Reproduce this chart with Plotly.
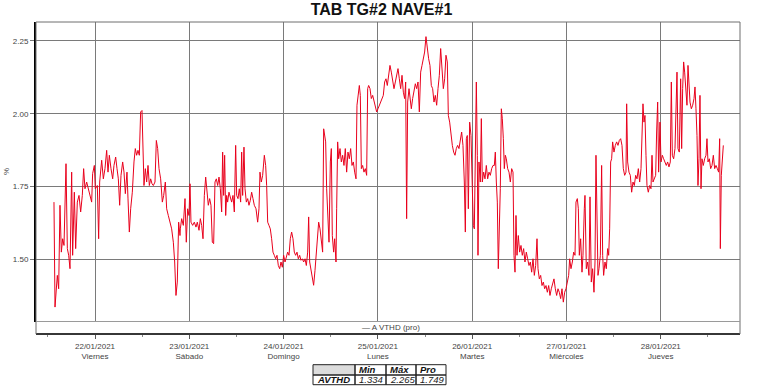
import plotly.graph_objects as go
import pandas as pd

# ---------------- data ----------------
chart_title = "TAB TG#2 NAVE#1"
series_name = "A VTHD (pro)"
start_time = "2021-01-21 00:00"

# hours since 21/01/2021 00:00
hours = [
    13.56, 13.82, 14.41, 14.75, 15.09, 15.43, 15.77, 16.11, 16.62, 16.96, 17.30, 17.64, 18.06, 18.31,
    18.74, 19.08, 19.50, 19.93, 20.35, 20.77, 21.11, 21.45, 21.88, 22.30, 22.73, 23.15, 23.40, 23.83,
    24.08, 24.59, 24.93, 25.19, 25.70, 26.12, 26.54, 26.97, 27.31, 27.65, 28.07, 28.50, 28.83, 29.26,
    29.60, 29.94, 30.28, 30.62, 31.04, 31.38, 31.72, 32.14, 32.40, 32.74, 33.08, 33.50, 33.92, 34.26,
    34.60, 34.94, 35.28, 35.62, 35.96, 36.13, 36.47, 36.81, 37.15, 37.49, 37.83, 38.17, 38.51, 38.85,
    39.27, 39.61, 39.95, 40.29, 40.71, 41.14, 41.48, 41.90, 42.24, 42.66, 43.09, 43.51, 43.94, 44.28,
    44.61, 44.95, 45.29, 45.63,
    45.72, 46.06, 46.48, 46.91, 47.24, 47.58, 47.92, 48.18, 48.43, 48.86, 49.28, 49.70, 50.04, 50.47,
    50.81, 51.15, 51.49, 51.83, 52.17, 52.50, 52.84, 53.18, 53.52, 53.86, 54.20, 54.54, 54.88, 55.22,
    55.56, 55.90, 56.24, 56.49, 56.75, 57.00, 57.26, 57.51, 57.76, 58.10, 58.44, 58.78, 59.12, 59.46,
    59.80, 60.06, 60.40, 60.73, 61.07, 61.33, 61.58, 61.92, 62.18, 62.52, 62.86, 63.19, 63.53, 63.87,
    64.21, 64.55, 64.98, 65.40, 65.74, 65.99, 66.33, 66.67, 67.10, 67.44, 67.69, 67.95, 68.28, 68.62,
    68.96, 69.30, 69.64, 69.98, 70.32, 70.66, 71.00, 71.34, 71.68, 72.02, 72.36, 72.70, 73.04, 73.38,
    73.71, 74.05, 74.39, 74.73, 75.07, 75.41, 75.75, 76.09, 76.43, 76.77, 77.11, 77.45, 77.79, 78.13,
    78.38, 78.64, 78.97, 79.31, 79.65, 79.99,
    80.25, 80.59, 80.93, 81.27, 81.60, 81.94, 82.20, 82.45, 82.71, 82.96, 83.30, 83.56, 83.90, 84.15,
    84.40, 84.74, 85.00, 85.34, 85.51, 85.76, 86.02, 86.36, 86.70, 87.03, 87.37, 87.71, 88.05, 88.39,
    88.73, 89.07, 89.41, 89.75, 90.09, 90.43, 90.68, 90.94, 91.28, 91.53, 91.79, 92.12, 92.46, 92.80,
    93.14, 93.40, 93.65, 93.99, 94.33, 94.67, 95.01, 95.35, 95.69, 96.03, 96.37, 96.71, 97.05, 97.38,
    97.72, 98.06, 98.40, 98.74, 99.08, 99.42, 99.76, 100.10, 100.44, 100.78, 101.12, 101.46, 101.80,
    102.14, 102.48, 102.81, 103.07, 103.32, 103.58, 103.92, 104.17, 104.51, 104.85, 105.19, 105.53,
    105.87, 106.21, 106.55, 106.89, 107.23, 107.57, 107.90, 108.24, 108.58, 108.92, 109.26, 109.60,
    109.94, 110.28, 110.62, 110.96, 111.30, 111.64, 111.98, 112.32, 112.66, 113.00, 113.33, 113.67,
    113.93, 114.27, 114.61, 114.95, 115.29, 115.63, 115.96, 116.30, 116.64, 116.98, 117.32, 117.66,
    118.00, 118.26, 118.51, 118.76, 119.02, 119.36, 119.70, 120.04, 120.29, 120.55, 120.80, 121.06,
    121.31, 121.48, 121.73, 122.07, 122.33, 122.58, 122.92, 123.26, 123.60, 123.94, 124.28, 124.62,
    124.96, 125.30, 125.64, 125.89, 126.15, 126.40, 126.65, 126.91, 127.16, 127.42, 127.67, 127.93,
    128.18, 128.44, 128.69, 129.03, 129.37, 129.71, 130.05, 130.39, 130.64, 130.90, 131.15, 131.41,
    131.74, 132.08, 132.42, 132.76, 133.10, 133.44, 133.78, 134.12, 134.46, 134.80, 135.14, 135.48,
    135.82, 136.16, 136.50, 136.75, 137.09, 137.43, 137.77, 138.11, 138.45, 138.79, 139.13, 139.47,
    139.80, 140.14, 140.48, 140.82, 141.16, 141.50, 141.84, 142.18, 142.52, 142.86, 143.20, 143.54,
    143.88, 144.22, 144.56, 144.81, 145.15, 145.49, 145.83, 146.17, 146.42, 146.76, 147.02, 147.27,
    147.61, 147.95, 148.20, 148.54,
    148.71, 149.05, 149.39, 149.73, 149.99, 150.32, 150.66, 151.00, 151.26, 151.51, 151.77, 152.02,
    152.28, 152.62, 152.95, 153.21, 153.46, 153.80, 154.14, 154.48, 154.74, 154.99, 155.25, 155.50,
    155.75, 156.09, 156.43, 156.77, 157.11, 157.45, 157.79, 158.13, 158.47, 158.81, 159.15, 159.32,
    159.57, 159.91, 160.25, 160.59, 160.93, 161.27, 161.61, 161.95, 162.29, 162.63, 162.97, 163.22,
    163.47, 163.73, 163.98, 164.24, 164.49, 164.83, 165.17, 165.51, 165.77, 166.02, 166.36, 166.70,
    166.95, 167.21, 167.46, 167.80, 168.06, 168.40, 168.73, 169.07, 169.41, 169.75, 170.09, 170.43,
    170.69, 170.94, 171.28, 171.62, 171.87, 172.13, 172.38, 172.72, 173.06, 173.32, 173.57, 173.82,
    174.08, 174.33, 174.67, 174.93, 175.18, 175.44, 175.78, 176.12, 176.46, 176.71, 176.96, 177.22,
    177.47, 177.73, 177.98, 178.24, 178.49, 178.83, 179.17, 179.51, 179.76, 180.02, 180.36, 180.70,
    181.04, 181.38, 181.72, 182.06, 182.40, 182.73, 182.99, 183.16, 183.41, 183.67, 183.92,
]

avthd = [
    1.696, 1.335, 1.444, 1.398, 1.685, 1.524, 1.570, 1.547, 1.828, 1.536, 1.513, 1.467, 1.799, 1.513,
    1.730, 1.536, 1.696, 1.719, 1.662, 1.719, 1.811, 1.742, 1.765, 1.742, 1.719, 1.696, 1.794, 1.822,
    1.742, 1.753, 1.570, 1.765, 1.840, 1.776, 1.811, 1.874, 1.799, 1.857, 1.811, 1.776, 1.822, 1.851,
    1.811, 1.776, 1.685, 1.788, 1.834, 1.799, 1.725, 1.799, 1.707, 1.593, 1.673, 1.730, 1.834, 1.880,
    1.857, 1.874, 1.857, 2.006, 2.011, 1.937, 1.753, 1.811, 1.765, 1.822, 1.753, 1.776, 1.759, 1.753,
    1.765, 1.908, 1.880, 1.811, 1.776, 1.696, 1.719, 1.765, 1.673, 1.650, 1.627, 1.604, 1.558, 1.490,
    1.375, 1.421, 1.627, 1.581,
    1.604, 1.639, 1.616, 1.708, 1.558, 1.673, 1.650, 1.759, 1.627, 1.616, 1.627, 1.610, 1.627, 1.599,
    1.639, 1.616, 1.570, 1.719, 1.782, 1.719, 1.685, 1.708, 1.685, 1.558, 1.553, 1.765, 1.776, 1.753,
    1.782, 1.742, 1.662, 1.868, 1.719, 1.857, 1.650, 1.719, 1.696, 1.730, 1.708, 1.696, 1.719, 1.662,
    1.891, 1.719, 1.708, 1.742, 1.696, 1.868, 1.719, 1.885, 1.742, 1.696, 1.708, 1.685, 1.702, 1.730,
    1.708, 1.685, 1.673, 1.627, 1.673, 1.799, 1.765, 1.788, 1.857, 1.822, 1.753, 1.627, 1.616, 1.604,
    1.570, 1.524, 1.513, 1.501, 1.513, 1.478, 1.467, 1.490, 1.472, 1.513, 1.490, 1.513, 1.524, 1.513,
    1.570, 1.593, 1.570, 1.524, 1.513, 1.524, 1.501, 1.513, 1.496, 1.501, 1.490, 1.501, 1.478, 1.524,
    1.645, 1.490, 1.467, 1.430, 1.410, 1.460,
    1.513, 1.570, 1.627, 1.604, 1.558, 1.524, 1.948, 1.925, 1.903, 1.742, 1.604, 1.558, 1.834, 1.880,
    1.581, 1.524, 1.570, 1.490, 1.673, 1.903, 1.845, 1.880, 1.834, 1.857, 1.822, 1.880, 1.799, 1.868,
    1.845, 1.880, 1.822, 1.834, 1.799, 1.776, 2.029, 2.052, 2.097, 2.063, 1.811, 1.822, 1.799, 1.811,
    1.788, 2.086, 2.097, 2.086, 2.052, 2.063, 2.040, 2.017, 2.006, 2.017, 2.029, 2.040, 2.052, 2.063,
    2.109, 2.120, 2.097, 2.132, 2.166, 2.143, 2.120, 2.086, 2.109, 2.132, 2.155, 2.120, 2.086,
    2.132, 2.074, 2.052, 2.109, 1.639, 2.040, 2.086, 2.052, 2.017, 2.052, 2.074, 2.103,
    2.086, 2.109, 2.006, 2.143, 2.166, 2.189, 2.212, 2.265, 2.212, 2.189, 2.166, 2.097,
    2.086, 2.040, 2.063, 2.029, 2.086, 2.132, 2.224, 2.166, 2.086, 2.120, 2.201, 2.178,
    1.994, 1.971, 1.925, 1.891, 1.868, 1.857, 1.880, 1.891, 1.880, 1.914, 1.937, 1.891,
    1.765, 1.593, 1.914, 1.925, 1.673, 1.971, 1.925, 1.742, 1.616, 1.604, 1.971, 2.109,
    1.857, 1.513, 1.834, 1.765, 1.983, 1.765, 1.799, 1.776, 1.822, 1.776, 1.799, 1.788,
    1.811, 1.822, 1.822, 1.868, 1.765, 1.696, 1.467, 1.627, 1.742, 2.017, 1.983, 1.914,
    1.811, 1.857, 1.845, 1.811, 1.799, 1.765, 1.811, 1.799, 1.513, 1.455, 1.650, 1.513,
    1.581, 1.524, 1.547, 1.513, 1.536, 1.490, 1.524, 1.501, 1.478, 1.490, 1.455, 1.501,
    1.444, 1.478, 1.570, 1.467, 1.432, 1.444, 1.409, 1.421, 1.398, 1.409, 1.386, 1.409,
    1.375, 1.398, 1.421, 1.432, 1.398, 1.375, 1.398, 1.386, 1.364, 1.398, 1.352, 1.386,
    1.398, 1.421, 1.444, 1.501, 1.467, 1.490, 1.524, 1.513, 1.696, 1.708, 1.673, 1.513,
    1.570, 1.455, 1.513, 1.673,
    1.719, 1.467, 1.490, 1.444, 1.714, 1.421, 1.467, 1.386, 1.490, 1.857, 1.627, 1.444,
    1.467, 1.513, 1.822, 1.513, 1.444, 1.490, 1.467, 1.536, 1.513, 1.604, 1.834, 1.845,
    1.903, 1.868, 1.891, 1.903, 1.891, 1.908, 1.914, 1.891, 1.811, 1.788, 1.799, 2.034,
    1.834, 1.799, 1.788, 1.730, 1.765, 1.753, 1.788, 1.776, 1.811, 1.765, 1.811, 1.914,
    2.034, 1.971, 1.994, 1.857, 1.753, 1.730, 1.753, 1.742, 1.857, 1.765, 1.776, 1.788,
    1.937, 2.040, 1.799, 1.971, 1.834, 1.857, 1.845, 1.834, 1.822, 1.834, 1.817, 1.834,
    2.109, 1.857, 1.845, 1.880, 2.086, 2.143, 1.880, 1.868, 2.120, 1.880, 2.086, 2.178,
    2.143, 2.086, 2.029, 2.166, 2.086, 2.040, 2.017, 2.029, 2.052, 2.092, 2.017, 1.925,
    1.753, 1.845, 2.063, 1.742, 1.845, 1.822, 1.845, 1.857, 1.914, 1.834, 1.845, 1.811,
    1.822, 1.857, 1.811, 1.822, 1.811, 1.799, 1.914, 1.536, 1.788, 1.868, 1.891,
]

tick_dates = ["2021-01-22", "2021-01-23", "2021-01-24", "2021-01-25",
              "2021-01-26", "2021-01-27", "2021-01-28"]
tick_date_labels = ["22/01/2021", "23/01/2021", "24/01/2021", "25/01/2021",
                    "26/01/2021", "27/01/2021", "28/01/2021"]
tick_weekdays = ["Viernes", "Sábado", "Domingo", "Lunes", "Martes", "Miércoles", "Jueves"]
y_ticks = [1.50, 1.75, 2.00, 2.25]

stat_row_label = "AVTHD"
stat_headers = ["Min", "Máx", "Pro"]
stat_values = ["1.334", "2.265", "1.749"]

# ---------------- figure ----------------
W, H = 763, 388
PL, PR, PT, PB = 36, 740, 22, 334          # plot region in pixels (paper)
PLOT_BOTTOM = 321.5                         # bottom of gridded area (legend strip below)


def px(x):
    return (x - PL) / (PR - PL)


def py(y):
    return (PB - y) / (PB - PT)


FONT = "Liberation Sans, Arial, sans-serif"
times = pd.Timestamp(start_time) + pd.to_timedelta(hours, unit="h")

fig = go.Figure()
fig.add_trace(go.Scatter(
    x=times, y=avthd, mode="lines", name=series_name,
    line=dict(color="#e8001c", width=1), showlegend=False,
))

fig.update_layout(
    width=W, height=H,
    margin=dict(l=PL, r=W - PR, t=PT, b=H - PB, pad=0),
    paper_bgcolor="white", plot_bgcolor="white",
    font=dict(family=FONT, size=8, color="#444"),
    title=dict(text="<b>" + chart_title + "</b>", x=0.5, xanchor="center",
               y=1 - 9.5 / H, yanchor="middle",
               font=dict(family=FONT, size=16, color="#111")),
    showlegend=False,
)

fig.update_xaxes(
    type="date",
    range=["2021-01-21 08:59", "2021-01-28 20:10"],
    anchor="free", position=0,
    tickvals=tick_dates,
    ticktext=[d + "<br>" + w for d, w in zip(tick_date_labels, tick_weekdays)],
    tickfont=dict(family=FONT, size=8, color="#444"),
    ticks="outside", ticklen=4, tickcolor="#555", tickwidth=1,
    minor=dict(ticks="outside", ticklen=2, tickcolor="#888",
               dtick=12 * 3600 * 1000, tick0="2021-01-21 12:00", showgrid=False),
    showline=True, linecolor="#000", linewidth=2,
    showgrid=True, gridcolor="#7a7a7a", gridwidth=1,
    zeroline=False,
)

fig.update_yaxes(
    range=[1.2854, 2.3153],
    domain=[py(PLOT_BOTTOM), 1],
    tickvals=y_ticks, tickformat=".2f",
    tickfont=dict(family=FONT, size=8, color="#444"),
    ticks="outside", ticklen=4, tickcolor="#777",
    showline=True, linecolor="#000", linewidth=2,
    showgrid=True, gridcolor="#7a7a7a", gridwidth=1,
    zeroline=False,
)

shapes = []
# outer box (plot + legend strip)
shapes.append(dict(type="rect", xref="paper", yref="paper", x0=0, x1=1, y0=0, y1=1,
                   line=dict(color="#6e6e6e", width=1), layer="above"))
# separator between plot and legend strip
shapes.append(dict(type="line", xref="paper", yref="paper", x0=0, x1=1,
                   y0=py(PLOT_BOTTOM), y1=py(PLOT_BOTTOM),
                   line=dict(color="#9a9a9a", width=1), layer="above"))

annotations = []
# legend entry
annotations.append(dict(xref="paper", yref="paper", x=px(391), y=py(327.5),
                        text="— " + series_name, showarrow=False,
                        xanchor="center", yanchor="middle",
                        font=dict(family=FONT, size=8, color="#444")))
# y axis unit
annotations.append(dict(xref="paper", yref="paper", x=px(6), y=py(172),
                        text="%", showarrow=False, textangle=-90,
                        xanchor="center", yanchor="middle",
                        font=dict(family=FONT, size=8, color="#444")))

# statistics table
col_x = [313, 355, 386, 416, 446]
row_y = [364.7, 375, 384.7]
TFS = 9.5
shapes.append(dict(type="rect", xref="paper", yref="paper",
                   x0=px(col_x[0]), x1=px(col_x[1]), y0=py(row_y[1]), y1=py(row_y[0]),
                   fillcolor="#dcdcdc", line=dict(width=0), layer="above"))
for r in range(2):
    for c in range(4):
        shapes.append(dict(type="rect", xref="paper", yref="paper",
                           x0=px(col_x[c]), x1=px(col_x[c + 1]),
                           y0=py(row_y[r + 1]), y1=py(row_y[r]),
                           line=dict(color="#222", width=1), layer="above"))
for i, h in enumerate(stat_headers):
    annotations.append(dict(xref="paper", yref="paper", x=px(col_x[i + 1] + 1.5),
                            y=py((row_y[0] + row_y[1]) / 2), text="<b><i>" + h + "</i></b>",
                            showarrow=False, xanchor="left", yanchor="middle",
                            font=dict(family=FONT, size=TFS, color="#111")))
annotations.append(dict(xref="paper", yref="paper", x=px(col_x[0] + 1.5),
                        y=py((row_y[1] + row_y[2]) / 2), text="<b><i>" + stat_row_label + "</i></b>",
                        showarrow=False, xanchor="left", yanchor="middle",
                        font=dict(family=FONT, size=TFS, color="#111")))
for i, v in enumerate(stat_values):
    annotations.append(dict(xref="paper", yref="paper", x=px(col_x[i + 1] + 1.5),
                            y=py((row_y[1] + row_y[2]) / 2), text="<i>" + v + "</i>",
                            showarrow=False, xanchor="left", yanchor="middle",
                            font=dict(family=FONT, size=TFS, color="#222")))

fig.update_layout(shapes=shapes, annotations=annotations)
fig.write_html("out.html", config={"displayModeBar": False},
               post_script="document.body.style.margin='0';")
